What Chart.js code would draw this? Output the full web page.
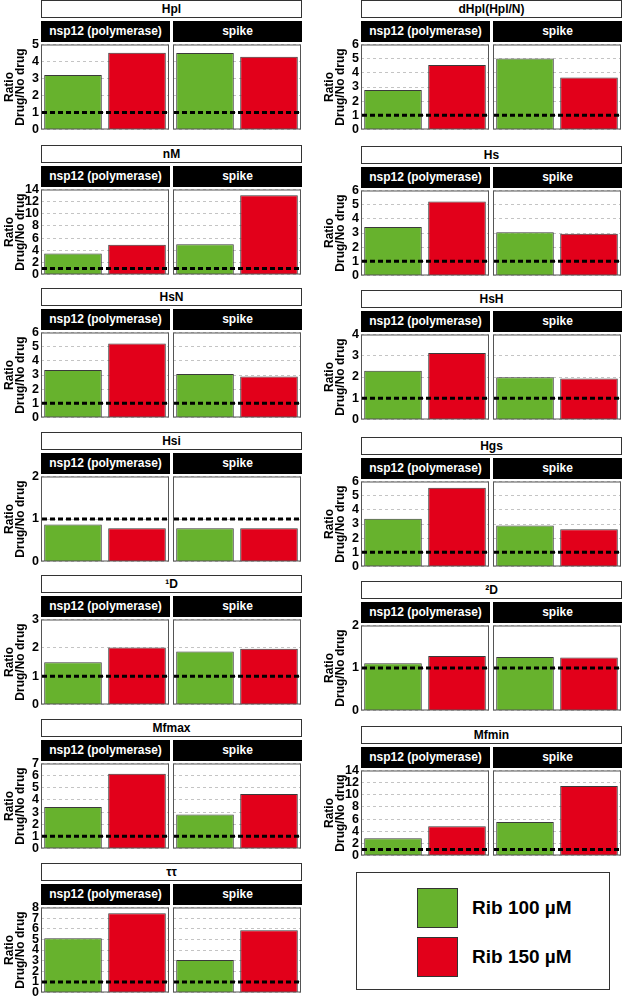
<!DOCTYPE html>
<html>
<head>
<meta charset="utf-8">
<script src="https://cdn.jsdelivr.net/npm/chart.js@4.4.1/dist/chart.umd.min.js"></script>
<style>
body { margin: 0; background: #fff; }
#fig { position: relative; width: 625px; height: 999px; font-family: 'Liberation Sans', Arial, sans-serif; font-weight: bold; }
.ttl { position: absolute; box-sizing: border-box; border: 1px solid #333; background: #fff; color: #000; font-size: 12px; text-align: center; line-height: 16px; }
.hdr { position: absolute; background: #000; color: #fff; font-size: 12px; text-align: center; line-height: 21px; }
canvas { position: absolute; }
.leg { position: absolute; left: 356px; top: 872px; width: 254px; height: 118px; box-sizing: border-box; border: 1px solid #333; }
.sw { position: absolute; left: 60px; width: 41px; height: 40px; box-sizing: border-box; border: 1px solid #333; }
.lt { position: absolute; left: 115px; font-size: 19px; line-height: 40px; color: #000; }
</style>
</head>
<body>
<div id="fig"></div>
<script>
// metrics, left column first then right column
const metrics = ['Hpl', 'nM', 'HsN', 'Hsi', '\u00b9D', 'Mfmax', '\u03c4\u03c4',
                 'dHpl(Hpl/N)', 'Hs', 'HsH', 'Hgs', '\u00b2D', 'Mfmin'];
const genes = ['nsp12 (polymerase)', 'spike'];
const treatments = ['Rib 100 \u00b5M', 'Rib 150 \u00b5M'];

const nsp12Rib100 = [3.2, 3.45, 3.36, 0.87, 1.49, 3.42, 5.1, 2.79, 3.43, 2.3, 3.37, 1.11, 2.85];
const nsp12Rib150 = [4.52, 4.9, 5.23, 0.78, 2.01, 6.16, 7.45, 4.56, 5.23, 3.13, 5.56, 1.28, 4.8];
const spikeRib100 = [4.5, 5.0, 3.07, 0.78, 1.875, 2.81, 3.05, 5.02, 3.06, 1.99, 2.9, 1.26, 5.5];
const spikeRib150 = [4.28, 13.06, 2.9, 0.78, 1.97, 4.48, 5.85, 3.67, 2.95, 1.93, 2.63, 1.25, 11.45];

const yMax = [5, 14, 6, 2, 3, 7, 8, 6, 6, 4, 6, 2, 14];
const yStep = [1, 2, 1, 1, 1, 1, 1, 1, 1, 1, 1, 1, 2];
const noDrugRatio = 1;

const colors = ['#67b22d', '#e2001a'];

// layout
const colX = [41, 361];
const plotTops = [43, 188, 331, 475, 618, 762, 906, 43, 189, 333, 480, 624, 769];
const facetW = 128, facetGap = 4, plotH = 88, axisW = 41, pad = 8;

const fig = document.getElementById('fig');

function addDiv(cls, left, top, width, height, text) {
    var d = document.createElement('div');
    d.className = cls;
    d.style.left = left + 'px';
    d.style.top = top + 'px';
    d.style.width = width + 'px';
    d.style.height = height + 'px';
    d.textContent = text;
    fig.appendChild(d);
    return d;
}

const panelPlugin = {
    id: 'panelBox',
    afterDatasetsDraw: function (chart) {
        var ctx = chart.ctx;
        var a = chart.chartArea;
        var y = chart.scales.y.getPixelForValue(noDrugRatio);
        ctx.save();
        ctx.strokeStyle = '#000';
        ctx.lineWidth = 3;
        ctx.setLineDash([5, 3]);
        ctx.beginPath();
        ctx.moveTo(a.left + 1, y);
        ctx.lineTo(a.right - 1, y);
        ctx.stroke();
        ctx.setLineDash([]);
        ctx.lineWidth = 1;
        ctx.strokeStyle = '#555';
        ctx.strokeRect(a.left + 0.5, a.top + 0.5, a.right - a.left - 1, a.bottom - a.top - 1);
        ctx.restore();
    }
};

function makeFacet(i, g, values, left, top) {
    var withAxis = g === 0;
    var cv = document.createElement('canvas');
    var w = facetW + 1 + (withAxis ? axisW : 0);
    cv.width = w;
    cv.height = plotH + 2 * pad;
    cv.style.left = (left - (withAxis ? axisW : 0)) + 'px';
    cv.style.top = (top - pad) + 'px';
    fig.appendChild(cv);

    new Chart(cv, {
        type: 'bar',
        data: {
            labels: treatments,
            datasets: [{
                data: values,
                backgroundColor: colors,
                borderColor: '#3a3a3a',
                borderWidth: 1,
                barPercentage: 0.9,
                categoryPercentage: 1
            }]
        },
        options: {
            responsive: false,
            animation: false,
            layout: { padding: { top: pad, bottom: pad, left: 0, right: 1 } },
            plugins: { legend: { display: false }, tooltip: { enabled: false } },
            scales: {
                x: { display: false },
                y: {
                    min: 0,
                    max: yMax[i],
                    ticks: {
                        stepSize: yStep[i],
                        autoSkip: false,
                        padding: 2,
                        // spike facets keep the labels for equal spacing but hide them
                        color: withAxis ? '#000' : 'rgba(0,0,0,0)',
                        font: { family: 'Liberation Sans', size: 12.5, weight: 'bold' }
                    },
                    grid: { color: '#c4c4c4', lineWidth: 1, drawTicks: false },
                    border: { display: false, dash: [3, 3] },
                    title: {
                        display: withAxis,
                        text: ['Ratio', 'Drug/No drug'],
                        color: '#000',
                        padding: { top: 4, bottom: 0 },
                        font: { family: 'Liberation Sans', size: 12, weight: 'bold', lineHeight: 0.92 }
                    },
                    afterFit: function (scale) {
                        scale.width = withAxis ? axisW : 0;
                    }
                }
            }
        },
        plugins: [panelPlugin]
    });
}

metrics.forEach(function (m, i) {
    var col = i < 7 ? 0 : 1;
    var x0 = colX[col];
    var top = plotTops[i];
    addDiv('ttl', x0, top - 43, 2 * facetW + facetGap + 1, 18, m);
    var facetData = [[nsp12Rib100[i], nsp12Rib150[i]], [spikeRib100[i], spikeRib150[i]]];
    genes.forEach(function (gname, g) {
        var fx = x0 + g * (facetW + facetGap);
        addDiv('hdr', fx, top - 22, facetW + 1, 21, gname);
        makeFacet(i, g, facetData[g], fx, top);
    });
});

// legend box
var leg = document.createElement('div');
leg.className = 'leg';
fig.appendChild(leg);
treatments.forEach(function (t, k) {
    var sw = document.createElement('div');
    sw.className = 'sw';
    sw.style.top = (15 + k * 49) + 'px';
    sw.style.background = colors[k];
    leg.appendChild(sw);
    var lt = document.createElement('div');
    lt.className = 'lt';
    lt.style.top = (15 + k * 49) + 'px';
    lt.textContent = t;
    leg.appendChild(lt);
});
</script>
</body>
</html>
